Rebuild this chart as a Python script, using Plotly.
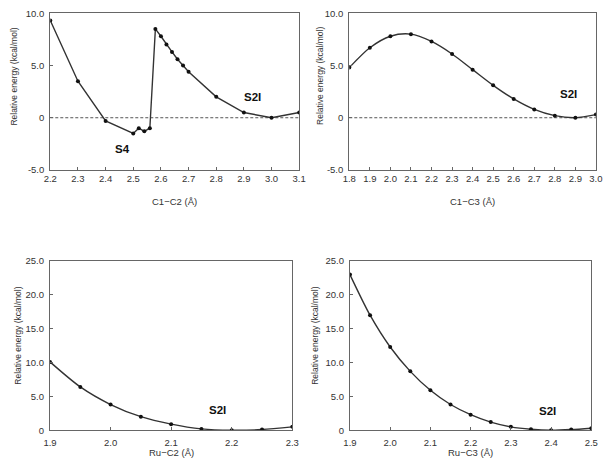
import plotly.graph_objects as go

# Panel 1: C1-C2 scan
c1c2_x = [2.2, 2.3, 2.4, 2.5, 2.52, 2.54, 2.56, 2.58, 2.60, 2.62, 2.64, 2.66, 2.68, 2.70, 2.80, 2.90, 3.0, 3.1]
c1c2_e = [9.3, 3.5, -0.3, -1.5, -1.0, -1.3, -1.0, 8.5, 7.8, 7.0, 6.3, 5.6, 5.0, 4.4, 2.0, 0.5, 0.0, 0.5]

# Panel 2: C1-C3 scan
c1c3_x = [1.8, 1.9, 2.0, 2.1, 2.2, 2.3, 2.4, 2.5, 2.6, 2.7, 2.8, 2.9, 3.0]
c1c3_e = [4.8, 6.7, 7.8, 8.0, 7.3, 6.1, 4.6, 3.1, 1.8, 0.8, 0.2, 0.0, 0.3]

# Panel 3: Ru-C2 scan
ruc2_x = [1.9, 1.95, 2.0, 2.05, 2.1, 2.15, 2.2, 2.25, 2.3]
ruc2_e = [10.1, 6.4, 3.8, 2.0, 0.9, 0.2, 0.0, 0.1, 0.5]

# Panel 4: Ru-C3 scan
ruc3_x = [1.9, 1.95, 2.0, 2.05, 2.1, 2.15, 2.2, 2.25, 2.3, 2.35, 2.4, 2.45, 2.5]
ruc3_e = [23.0, 17.0, 12.3, 8.7, 5.9, 3.8, 2.3, 1.2, 0.5, 0.15, 0.0, 0.1, 0.3]

top_ticks = [-5, 0, 5, 10]
top_ticktext = ["-5.0", "0", "5.0", "10.0"]
bot_ticks = [0, 5, 10, 15, 20, 25]
bot_ticktext = ["0", "5.0", "10.0", "15.0", "20.0", "25.0"]

x1_ticks = [2.2, 2.3, 2.4, 2.5, 2.6, 2.7, 2.8, 2.9, 3.0, 3.1]
x2_ticks = [1.8, 1.9, 2.0, 2.1, 2.2, 2.3, 2.4, 2.5, 2.6, 2.7, 2.8, 2.9, 3.0]
x3_ticks = [1.9, 2.0, 2.1, 2.2, 2.3]
x4_ticks = [1.9, 2.0, 2.1, 2.2, 2.3, 2.4, 2.5]

FONT = "Liberation Sans, Arial, sans-serif"
LINE = "#333333"
AX = "#666666"
TXT = "#333333"

fig = go.Figure()

def add_series(x, y, xa, ya, shape):
    fig.add_trace(go.Scatter(
        x=x, y=y, xaxis=xa, yaxis=ya, mode="lines+markers",
        line=dict(color=LINE, width=1.4, shape=shape, smoothing=0.8),
        marker=dict(color="#111111", size=4),
        showlegend=False, cliponaxis=True))

add_series(c1c2_x, c1c2_e, "x", "y", "linear")
add_series(c1c3_x, c1c3_e, "x2", "y2", "spline")
add_series(ruc2_x, ruc2_e, "x3", "y3", "spline")
add_series(ruc3_x, ruc3_e, "x4", "y4", "spline")

def xax(dom, rng, ticks, anchor, standoff):
    return dict(domain=dom, range=rng, tickvals=ticks,
                ticktext=[f"{t:.1f}" for t in ticks], anchor=anchor,
                showgrid=False, zeroline=False, showline=True, mirror=True,
                linecolor=AX, linewidth=1.2, ticks="inside", ticklen=3,
                ticklabelstandoff=standoff,
                tickcolor=AX, tickfont=dict(size=9.5, color=TXT, family=FONT))

def yax(dom, rng, ticks, text, anchor):
    return dict(domain=dom, range=rng, tickvals=ticks, ticktext=text, anchor=anchor,
                showgrid=False, zeroline=False, showline=True, mirror=True,
                linecolor=AX, linewidth=1.2, ticks="inside", ticklen=3,
                ticklabelstandoff=3,
                tickcolor=AX, tickfont=dict(size=9.5, color=TXT, family=FONT))

top_dom = [0.638, 0.984]
bot_dom = [0.0635, 0.4369]

fig.update_layout(
    width=612, height=464, margin=dict(l=0, r=0, t=0, b=0),
    paper_bgcolor="white", plot_bgcolor="white",
    xaxis=xax([0.0724, 0.4886], [2.2, 3.1], x1_ticks, "y", 0),
    yaxis=yax(top_dom, [-5, 10], top_ticks, top_ticktext, "x"),
    xaxis2=xax([0.5724, 0.9848], [1.8, 3.0], x2_ticks, "y2", 0),
    yaxis2=yax(top_dom, [-5, 10], top_ticks, top_ticktext, "x2"),
    xaxis3=xax([0.0719, 0.4771], [1.9, 2.3], x3_ticks, "y3", 3),
    yaxis3=yax(bot_dom, [0, 25], bot_ticks, bot_ticktext, "x3"),
    xaxis4=xax([0.5735, 0.9771], [1.9, 2.5], x4_ticks, "y4", 3),
    yaxis4=yax(bot_dom, [0, 25], bot_ticks, bot_ticktext, "x4"),
)

# dashed zero lines on top panels
for xr, yr in [("x", "y"), ("x2", "y2")]:
    fig.add_shape(type="line", xref=f"{xr} domain", yref=yr, x0=0, x1=1, y0=0, y1=0,
                  line=dict(color="#555", width=1, dash="3px,2px"), layer="below")

# state labels
labels = [("S4", 2.46, -3.0, "x", "y"), ("S2I", 2.93, 1.95, "x", "y"),
          ("S2I", 2.867, 2.24, "x2", "y2"), ("S2I", 2.176, 2.94, "x3", "y3"),
          ("S2I", 2.39, 2.8, "x4", "y4")]
for t, x, y, xr, yr in labels:
    fig.add_annotation(text=f"<b>{t}</b>", x=x, y=y, xref=xr, yref=yr, showarrow=False,
                       xanchor="center", yanchor="middle",
                       font=dict(size=11.5, color="#111", family=FONT))

# axis titles
xtitles = [("C1\u2212C2 (\u00c5)", 171.5, 200), ("C1\u2212C3 (\u00c5)", 476.5, 200),
           ("Ru\u2212C2 (\u00c5)", 168, 457), ("Ru\u2212C3 (\u00c5)", 474.5, 457)]
for t, px, py in xtitles:
    fig.add_annotation(text=t, x=px / 612, y=1 - py / 464, xref="paper", yref="paper",
                       showarrow=False, xanchor="center", yanchor="middle",
                       font=dict(size=9.5, color=TXT, family=FONT))

ytitles = [(7.5, 72), (321, 72), (11, 338), (315, 338)]
for px, py in ytitles:
    fig.add_annotation(text="Relative energy (kcal/mol)", x=px / 612, y=1 - py / 464,
                       xref="paper", yref="paper", showarrow=False, textangle=-90,
                       xanchor="center", yanchor="middle",
                       font=dict(size=8.5, color=TXT, family=FONT))

fig.write_html("out.html")
